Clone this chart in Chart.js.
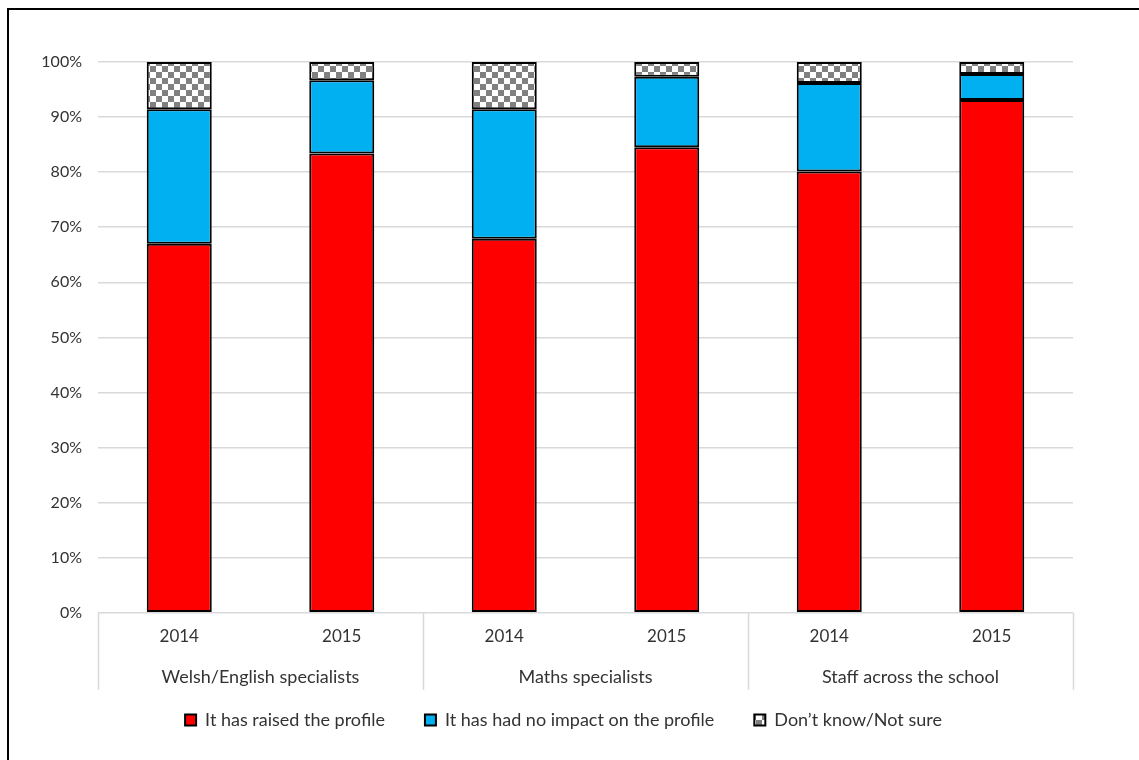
<!DOCTYPE html>
<html>
<head>
<meta charset="utf-8">
<script src="https://cdn.jsdelivr.net/npm/chart.js@4.4.1/dist/chart.umd.min.js"></script>
<style>
  html, body { margin: 0; padding: 0; background: #fff; }
  #wrap { width: 1139px; height: 760px; position: relative; }
</style>
</head>
<body>
<div id="wrap"><canvas id="chart" width="1139" height="760"></canvas></div>
<script>
const years = ['2014', '2015', '2014', '2015', '2014', '2015']
const groups = ['Welsh/English specialists', 'Maths specialists', 'Staff across the school']
const raised = [67.0, 83.4, 67.9, 84.5, 80.1, 93.1]
const noImpact = [24.4, 13.3, 23.5, 12.8, 16.1, 4.7]
const notSure = [8.6, 3.3, 8.6, 2.7, 3.8, 2.2]
const seriesNames = ['It has raised the profile', 'It has had no impact on the profile', 'Don\u2019t know/Not sure']

const FONT = 'Lato, "Open Sans", sans-serif'
const TEXT = '#333333'

function checker() {
  const c = document.createElement('canvas')
  c.width = 12
  c.height = 12
  const g = c.getContext('2d')
  g.fillStyle = '#ffffff'
  g.fillRect(0, 0, 12, 12)
  g.fillStyle = '#808080'
  g.fillRect(0, 0, 6, 6)
  g.fillRect(6, 6, 6, 6)
  return g.createPattern(c, 'repeat')
}

const ctx = document.getElementById('chart').getContext('2d')
const pattern = checker()

// separators + frame for the two-level category axis
const groupLines = {
  id: 'groupLines',
  afterDraw(chart) {
    const { ctx, chartArea, scales } = chart
    const x = scales.x
    const top = chartArea.bottom
    const bottom = scales.x2.bottom
    const edges = [chartArea.left]
    for (let i = 1; i < years.length - 1; i += 2) {
      edges.push((x.getPixelForValue(i) + x.getPixelForValue(i + 1)) / 2)
    }
    edges.push(chartArea.right)
    ctx.save()
    ctx.strokeStyle = '#d9d9d9'
    ctx.lineWidth = 1.5
    edges.forEach(e => {
      ctx.beginPath()
      ctx.moveTo(Math.round(e) + 0.5, top)
      ctx.lineTo(Math.round(e) + 0.5, bottom)
      ctx.stroke()
    })
    ctx.strokeStyle = '#000'
    ctx.lineWidth = 2
    ctx.beginPath()
    ctx.moveTo(8, 760)
    ctx.lineTo(8, 9)
    ctx.lineTo(1139, 9)
    ctx.stroke()
    ctx.restore()
  }
}

new Chart(ctx, {
  type: 'bar',
  data: {
    labels: years,
    datasets: [
      { label: seriesNames[0], data: raised, backgroundColor: '#ff0000' },
      { label: seriesNames[1], data: noImpact, backgroundColor: '#00b0f0' },
      { label: seriesNames[2], data: notSure, backgroundColor: pattern }
    ].map(d => ({
      ...d,
      borderColor: '#000',
      borderWidth: 2,
      borderSkipped: false,
      categoryPercentage: 1,
      barPercentage: 0.4
    }))
  },
  options: {
    responsive: false,
    animation: false,
    layout: { padding: { top: 62, right: 12, left: 0, bottom: 21 } },
    plugins: {
      legend: {
        position: 'bottom',
        // empty title with negative padding pulls the row up, so the
        // wide item gap does not push it down
        title: { display: true, text: '', font: { size: 1 }, padding: { top: 0, bottom: -20 } },
        labels: {
          boxWidth: 11,
          boxHeight: 11,
          padding: 40,
          color: TEXT,
          font: { family: FONT, size: 18 }
        }
      },
      tooltip: { enabled: false }
    },
    scales: {
      x: {
        stacked: true,
        grid: { display: false },
        border: { display: false },
        ticks: { color: TEXT, font: { family: FONT, size: 17 }, padding: 6 },
        afterFit(s) { s.height = 44 }
      },
      x2: {
        type: 'category',
        labels: groups,
        offset: true,
        position: 'bottom',
        grid: { display: false },
        border: { display: false },
        ticks: { color: TEXT, font: { family: FONT, size: 18 }, padding: 2 },
        afterFit(s) { s.height = 33 }
      },
      y: {
        stacked: true,
        min: 0,
        max: 100,
        ticks: {
          stepSize: 10,
          color: TEXT,
          padding: 16,
          font: { family: FONT, size: 16 },
          callback: v => v + '%'
        },
        grid: { color: '#d9d9d9', lineWidth: 1.5, tickLength: 0 },
        border: { display: false },
        afterFit(s) { s.width = 98 }
      },
      // blank right-hand strip so the plot ends where the reference does
      // while the legend stays centred on the whole picture
      yRight: {
        position: 'right',
        min: 0,
        max: 100,
        grid: { display: false },
        border: { display: false },
        ticks: { display: false },
        afterFit(s) { s.width = 54 }
      }
    }
  },
  plugins: [groupLines]
})
</script>
</body>
</html>
